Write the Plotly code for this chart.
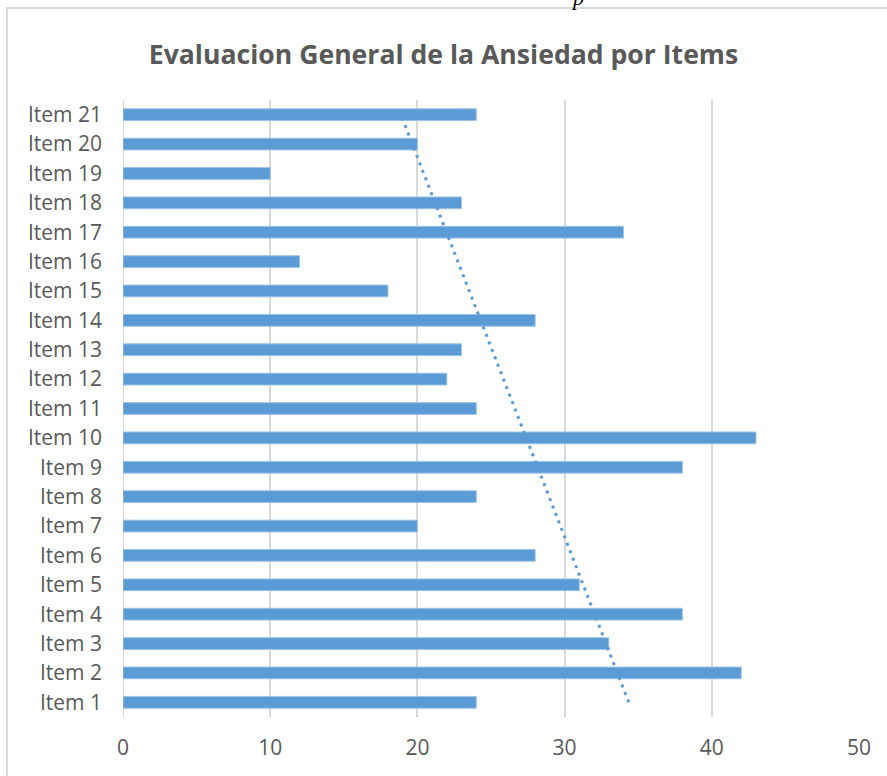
import numpy as np
import plotly.graph_objects as go

# Scores per item (Item 1 .. Item 21)
items = [f"Item {i}" for i in range(1, 22)]
scores = [24, 42, 33, 38, 31, 28, 20, 24, 38, 43, 24, 22, 23, 28, 18, 12, 34, 23, 10, 20, 24]
x_ticks = [0, 10, 20, 30, 40, 50]
title_text = "Evaluacion General de la Ansiedad por Items"

positions = np.arange(1, len(items) + 1)

# Linear trend of the scores across items
slope, intercept = np.polyfit(positions, scores, 1)
trend_pos = np.array([positions[0], positions[-1]])
trend_val = slope * trend_pos + intercept

BLUE = "#5B9BD5"
GREY_TXT = "#595959"
GRID = "#d9d9d9"

fig = go.Figure()
fig.add_trace(go.Bar(
    x=scores, y=positions, orientation="h",
    marker=dict(color=BLUE, line=dict(color="#9dc3e6", width=1)),
    width=0.4, hoverinfo="x+y",
))
fig.add_trace(go.Scatter(
    x=trend_val, y=trend_pos, mode="lines",
    line=dict(color=BLUE, width=3, dash="3px,5px"),
    hoverinfo="skip",
))

fig.update_layout(
    width=887, height=776,
    margin=dict(l=123, r=28, t=100, b=59),
    paper_bgcolor="white", plot_bgcolor="white",
    showlegend=False,
    title=dict(text=title_text, x=0.5, xref="container", xanchor="center",
               y=1 - 55 / 776, yanchor="middle",
               font=dict(family="Open Sans", size=26.6, color=GREY_TXT, weight="bold")),
    xaxis=dict(range=[0, 50], tickvals=x_ticks, showgrid=True, gridcolor=GRID,
               gridwidth=2, zeroline=False, showline=False,
               tickfont=dict(family="Open Sans", size=21, color=GREY_TXT),
               ticklabelstandoff=16, fixedrange=True),
    yaxis=dict(range=[0.5, 21.5], tickvals=list(positions), ticktext=items,
               showgrid=False, zeroline=False, showline=False,
               tickfont=dict(family="Open Sans", size=21, color=GREY_TXT),
               ticklabelstandoff=20, fixedrange=True),
    shapes=[
        # vertical grid line at zero
        dict(type="line", xref="x", yref="paper", x0=0, x1=0, y0=0, y1=1,
             line=dict(color=GRID, width=2), layer="below"),
        # chart frame
        dict(type="rect", xref="paper", yref="paper",
             x0=(7 - 123) / 736, x1=(900 - 123) / 736,
             y0=(717 - 782) / 617, y1=(717 - 8) / 617,
             line=dict(color="#d9d9d9", width=2), fillcolor="rgba(0,0,0,0)"),
    ],
    annotations=[
        dict(text="<i>p</i>", xref="paper", yref="paper",
             x=(577 - 123) / 736, y=(717 - 12) / 617, xanchor="center", yanchor="bottom",
             showarrow=False, font=dict(family="Liberation Serif", size=22, color="#000000")),
    ],
)

fig.write_html("out.html")
